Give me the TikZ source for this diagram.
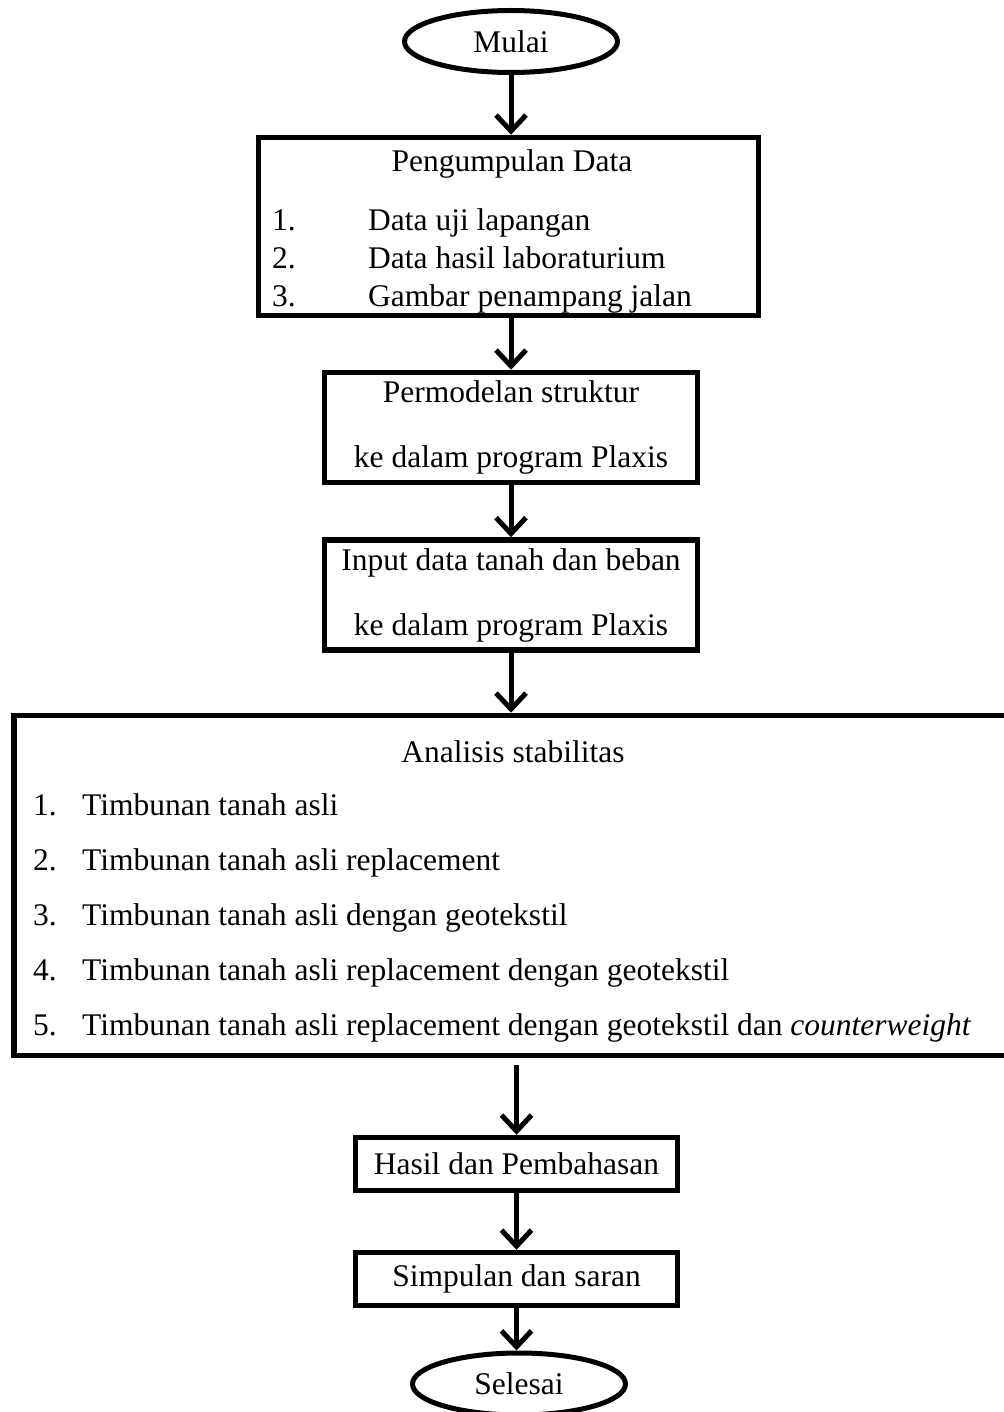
\documentclass[tikz,border=0pt]{standalone}
\usepackage{fontspec}
\setmainfont{Liberation Serif}
\usetikzlibrary{shapes.geometric, arrows.meta}

\tikzset{
  terminal/.style={draw, ellipse, line width=5pt, minimum width=213pt, minimum height=62pt},
  kotak/.style={draw, rectangle, line width=5.5pt, align=center},
  alur/.style={line width=5pt, -{Straight Barb[length=16pt, width=30pt]}}
}

\begin{document}
\begin{tikzpicture}[x=1pt, y=-1pt, inner sep=0pt, font=\fontsize{31.5pt}{65pt}\selectfont]
            \useasboundingbox (0,0) rectangle (1003,1412);
            \node[terminal] (mulai) at (511,41.5) {Mulai};
            \node[kotak, minimum width=500pt, minimum height=178pt] (data) at (508.5,226.5) {};
            \node[anchor=base] (judulData) at (512,172) {Pengumpulan Data};
            \node[anchor=base west] (noA) at (272,231) {1.};
            \node[anchor=base west] (isiA) at (368,231) {Data uji lapangan};
            \node[anchor=base west] (noB) at (272,269) {2.};
            \node[anchor=base west] (isiB) at (368,269) {Data hasil laboraturium};
            \node[anchor=base west] (noC) at (272,307) {3.};
            \node[anchor=base west] (isiC) at (368,307) {Gambar penampang jalan};
            \node[kotak, minimum width=373pt, minimum height=110pt] (model) at (511,427.5) {Permodelan struktur\\ke dalam program Plaxis};
            \node[kotak, minimum width=373pt, minimum height=110pt] (input) at (511,595) {Input data tanah dan beban\\ke dalam program Plaxis};
            \node[kotak, minimum width=998pt, minimum height=340pt] (analisis) at (513,885.5) {};
            \node[anchor=base] (judulAnalisis) at (513,762) {Analisis stabilitas};
            \node[anchor=base west] (no1) at (33,815) {1.};
            \node[anchor=base west] (isi1) at (82,815) {Timbunan tanah asli};
            \node[anchor=base west] (no2) at (33,870) {2.};
            \node[anchor=base west] (isi2) at (82,870) {Timbunan tanah asli replacement};
            \node[anchor=base west] (no3) at (33,925) {3.};
            \node[anchor=base west] (isi3) at (82,925) {Timbunan tanah asli dengan geotekstil};
            \node[anchor=base west] (no4) at (33,980) {4.};
            \node[anchor=base west] (isi4) at (82,980) {Timbunan tanah asli replacement dengan geotekstil};
            \node[anchor=base west] (no5) at (33,1035) {5.};
            \node[anchor=base west] (isi5) at (82,1035) {Timbunan tanah asli replacement dengan geotekstil dan \textit{counterweight}};
            \node[kotak, minimum width=322pt, minimum height=53pt] (hasil) at (516.5,1164) {Hasil dan Pembahasan};
            \node[kotak, minimum width=322pt, minimum height=53pt] (simpulan) at (516.5,1279) {Simpulan dan saran};
            \node[terminal] (selesai) at (519,1384) {Selesai};
            \draw[alur] (mulai.south) -- (mulai.south |- data.north);
            \draw[alur] (data.south -| model.north) -- (model.north);
            \draw[alur] (model.south) -- (input.north);
            \draw[alur] (input.south) -- (input.south |- analisis.north);
            \draw[alur, shorten <=7pt] (analisis.south -| hasil.north) -- (hasil.north);
            \draw[alur] (hasil.south) -- (simpulan.north);
            \draw[alur] (simpulan.south) -- (simpulan.south |- selesai.north);
        \end{tikzpicture}
\end{document}
